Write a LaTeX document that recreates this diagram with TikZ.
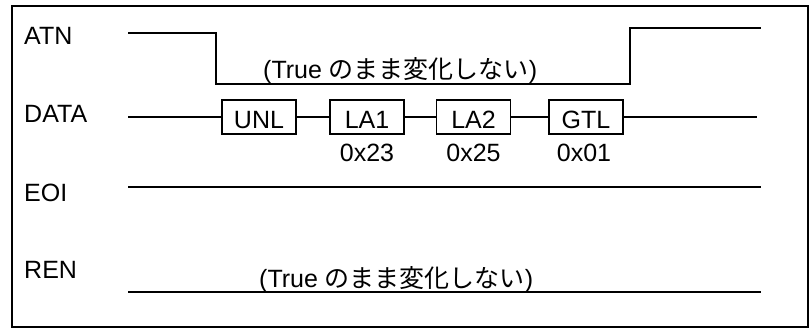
\documentclass[tikz,border=0pt]{standalone}
\usepackage{fontspec}
\setmainfont{Liberation Sans}
\newfontfamily\jpfont{Noto Sans CJK JP}
\begin{document}
\begin{tikzpicture}[x=1pt,y=-1pt,
  every node/.style={font=\fontsize{25}{30}\selectfont, inner sep=0pt},
  sig/.style={line width=1.7pt, line join=miter},
  lbl/.style={anchor=base west},
  cmdbox/.style={draw, line width=1.5pt, minimum width=74pt, minimum height=34pt, text height=22.5pt, text depth=0pt},
  hex/.style={anchor=base}
]
\useasboundingbox (0,0) rectangle (812,329);
\draw[line width=1.7pt] (12,6) rectangle (808,327);

% signal labels
\node[lbl] (atn) at (24,45) {ATN};
\node[lbl] (data) at (24,122) {DATA};
\node[lbl] (eoi) at (24,201) {EOI};
\node[lbl] (ren) at (24,278) {REN};

% ATN
\coordinate (a0) at (128,33);
\coordinate (a1) at (216,33);
\coordinate (a2) at (216,84);
\coordinate (a3) at (630,84);
\coordinate (a4) at (630,28);
\coordinate (a5) at (761,28);
\draw[sig] (a0) -- (a1) -- (a2) -- (a3) -- (a4) -- (a5);
\node[lbl] (atnnote) at (263,79) {(True {\jpfont のまま変化しない})};

% DATA
\node[cmdbox] (unl) at (259,117) {UNL};
\node[cmdbox] (la1) at (367,117) {LA1};
\node[cmdbox] (la2) at (473.5,117) {LA2};
\node[cmdbox] (gtl) at (586,117) {GTL};
\coordinate (d0) at (128,117);
\coordinate (d1) at (757,117);
\draw[sig] (d0) -- (unl.west);
\draw[sig] (unl.east) -- (la1.west);
\draw[sig] (la1.east) -- (la2.west);
\draw[sig] (la2.east) -- (gtl.west);
\draw[sig] (gtl.east) -- (d1);
\node[hex] (h1) at (367,161.5) {0x23};
\node[hex] (h2) at (473.5,161.5) {0x25};
\node[hex] (h3) at (584,161.5) {0x01};

% EOI
\coordinate (e0) at (128,187);
\coordinate (e1) at (761,187);
\draw[sig] (e0) -- (e1);

% REN
\coordinate (r0) at (128,292);
\coordinate (r1) at (761,292);
\draw[sig] (r0) -- (r1);
\node[lbl] (rennote) at (259,287) {(True {\jpfont のまま変化しない})};
\end{tikzpicture}
\end{document}
